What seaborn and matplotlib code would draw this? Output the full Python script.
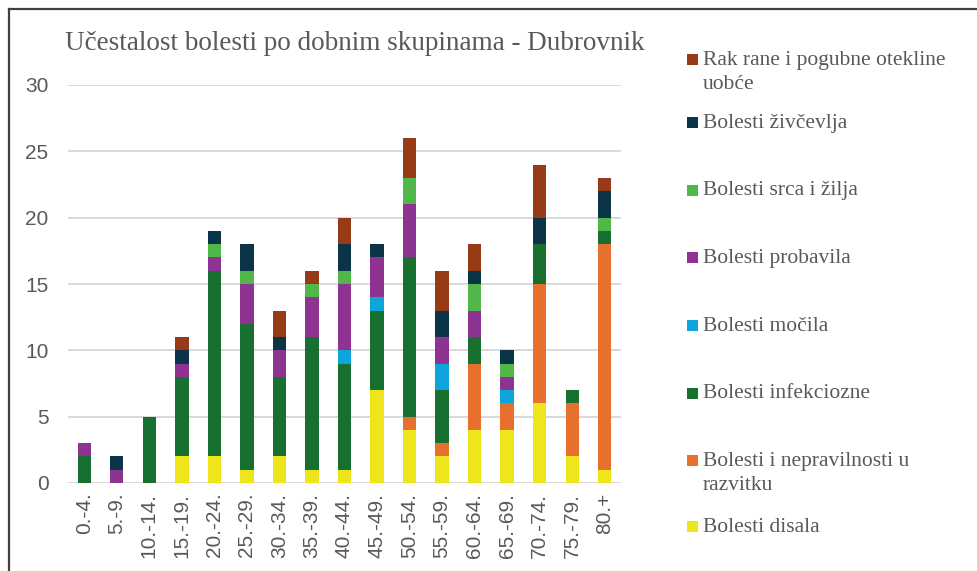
import numpy as np
import matplotlib
matplotlib.use('Agg')
from matplotlib import pyplot as plt
from matplotlib.patches import Rectangle
from matplotlib.lines import Line2D
import seaborn as sns

# age groups
groups = ['0.-4.', '5.-9.', '10.-14.', '15.-19.', '20.-24.', '25.-29.', '30.-34.', '35.-39.',
          '40.-44.', '45.-49.', '50.-54.', '55.-59.', '60.-64.', '65.-69.', '70.-74.', '75.-79.', '80.+']

# series, bottom of the stack first
disala      = [0, 0, 0, 2, 2, 1, 2, 1, 1, 7, 4, 2, 4, 4, 6, 2, 1]
razvitku    = [0, 0, 0, 0, 0, 0, 0, 0, 0, 0, 1, 1, 5, 2, 9, 4, 17]
infekciozne = [2, 0, 5, 6, 14, 11, 6, 10, 8, 6, 12, 4, 2, 0, 3, 1, 1]
mocila      = [0, 0, 0, 0, 0, 0, 0, 0, 1, 1, 0, 2, 0, 1, 0, 0, 0]
probavila   = [1, 1, 0, 1, 1, 3, 2, 3, 5, 3, 4, 2, 2, 1, 0, 0, 0]
srca        = [0, 0, 0, 0, 1, 1, 0, 1, 1, 0, 2, 0, 2, 1, 0, 0, 1]
zivcevlja   = [0, 1, 0, 1, 1, 2, 1, 0, 2, 1, 0, 2, 1, 1, 2, 0, 2]
rak         = [0, 0, 0, 1, 0, 0, 2, 1, 2, 0, 3, 3, 2, 0, 4, 0, 1]

series = [disala, razvitku, infekciozne, mocila, probavila, srca, zivcevlja, rak]
labels = ['Bolesti disala', 'Bolesti i nepravilnosti u\nrazvitku', 'Bolesti infekciozne',
          'Bolesti močila', 'Bolesti probavila', 'Bolesti srca i žilja', 'Bolesti živčevlja',
          'Rak rane i pogubne otekline\nuobće']
colors = ['#EEE51C', '#E8702F', '#17702F', '#0EA5DC', '#8E3392', '#50B848', '#0C3448', '#963A17']

W, H = 978, 571
fig = plt.figure(figsize=(W / 100, H / 100), dpi=100)
ax = fig.add_axes([68 / W, 1 - 483 / H, 553 / W, 398 / H])

grey = '#595959'
cum = np.cumsum(np.array(series), axis=0)

# stacked bars: tallest cumulative layer first, lower layers on top of it
for i in range(len(series) - 1, -1, -1):
    sns.barplot(x=groups, y=cum[i], color=colors[i], width=0.41, saturation=1,
                edgecolor='none', linewidth=0, ax=ax, zorder=3)

ax.set_ylim(0, 30)
ax.set_xlim(-0.5, len(groups) - 0.5)
ax.set_yticks(range(0, 31, 5))
ax.grid(axis='y', color='#D9D9D9', linewidth=1.4, zorder=0)
ax.set_axisbelow(True)
for s in ax.spines.values():
    s.set_visible(False)
ax.tick_params(axis='both', length=0, labelsize=15, labelcolor=grey)
ax.tick_params(axis='y', pad=14)
ax.tick_params(axis='x', pad=7, labelrotation=90)
for t in ax.get_xticklabels() + ax.get_yticklabels():
    t.set_family('Liberation Sans')
ax.set_xlabel('')
ax.set_ylabel('')

fig.text(65 / W, 1 - 50 / H, 'Učestalost bolesti po dobnim skupinama - Dubrovnik',
         family='Liberation Serif', fontsize=19.5, color=grey, ha='left', va='baseline')

# legend, drawn by hand to follow the original spacing (top entry first)
leg_y = [526.5, 460.5, 393, 325.5, 257.5, 190, 122.5, 59]
for lab, col, y in zip(labels, colors, leg_y):
    fig.add_artist(Rectangle((687 / W, 1 - (y + 5.5) / H), 11 / W, 11 / H,
                             transform=fig.transFigure, facecolor=col, edgecolor='none'))
    for k, line in enumerate(lab.split('\n')):
        fig.text(703 / W, 1 - (y + 5.5 + 24.5 * k) / H, line, family='Liberation Serif',
                 fontsize=15.5, color=grey, ha='left', va='baseline')

# chart frame (only left and top edges visible in the crop)
fig.add_artist(Line2D([8.5 / W, 8.5 / W], [0, 1 - 8.5 / H], transform=fig.transFigure,
                      color='#404040', linewidth=1.6))
fig.add_artist(Line2D([8.5 / W, 1], [1 - 8.5 / H, 1 - 8.5 / H], transform=fig.transFigure,
                      color='#404040', linewidth=1.6))

fig.savefig('out.png', dpi=100)
